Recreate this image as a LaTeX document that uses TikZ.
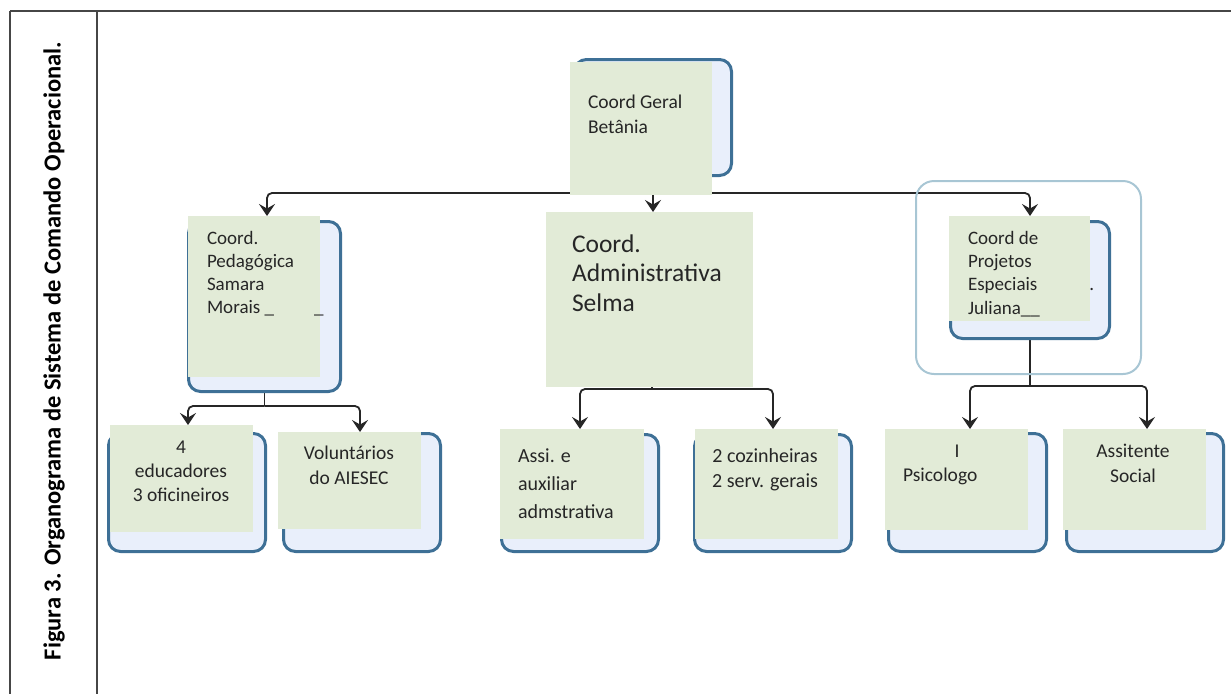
\documentclass[tikz,border=0pt]{standalone}
\usepackage{fontspec}
\setmainfont{Carlito}
\usetikzlibrary{arrows.meta,backgrounds}
\definecolor{gfill}{RGB}{226,235,215}
\definecolor{bfill}{RGB}{233,239,251}
\definecolor{bdraw}{RGB}{62,112,150}
\definecolor{framec}{RGB}{70,70,70}
\definecolor{txt}{RGB}{38,38,38}
\definecolor{outerb}{RGB}{168,198,212}
\tikzset{
  bluebox/.style={draw=bdraw, fill=bfill, line width=3pt, rounded corners=12pt, inner sep=0pt, outer sep=0pt, anchor=north west},
  greenbox/.style={fill=gfill, inner sep=0pt, outer sep=0pt, anchor=north west},
  lbl/.style={text=txt, inner sep=0pt, outer sep=0pt, align=left, anchor=base west},
  clbl/.style={text=txt, inner sep=0pt, outer sep=0pt, align=center, anchor=base},
  wire/.style={draw=black!85, line width=1.8pt},
  conn/.style={wire, rounded corners=5pt, -{Stealth[length=12pt,width=16pt,inset=4.5pt]}},
  framel/.style={draw=framec, line width=2pt},
}
\begin{document}
\begin{tikzpicture}[x=1pt,y=-1pt]
\useasboundingbox (0,0) rectangle (1231,694);
% frame
\draw[framel] (10,11) -- (1231,11);
\draw[framel] (10,11) -- (10,694);
\draw[framel] (97,11) -- (97,694);
\node[rotate=90, inner sep=0pt, font=\bfseries\fontsize{24.5}{28}\selectfont] (title) at (54,351) {Figura 3. Organograma de Sistema de Comando Operacional.};
% outer light frame around projects
\node[draw=outerb, line width=2pt, rounded corners=18pt, inner sep=0pt, outer sep=0pt, anchor=north west, minimum width=225pt, minimum height=193pt] (projFrame) at (916,181) {};
% top
\node[bluebox, minimum width=157pt, minimum height=116pt] (topB) at (574.5,59.5) {};
\node[greenbox, minimum width=142pt, minimum height=133pt] (topG) at (570,62) {};
\node[lbl, font=\fontsize{19.5}{25}\selectfont] (topT) at (588,133) {Coord Geral\\Betânia};
% pedagogica
\node[bluebox, minimum width=152pt, minimum height=170pt] (pedB) at (188.5,221.5) {};
\node[greenbox, minimum width=132pt, minimum height=161pt] (pedG) at (188,216) {};
\node[lbl, font=\fontsize{19}{23}\selectfont] (pedT) at (207,313) {Coord.\\Pedagógica\\Samara\\Morais \_\hspace{40pt}\_};
% administrativa
\node[greenbox, minimum width=207pt, minimum height=175pt] (adminG) at (546,212) {};
\node[lbl, font=\fontsize{25.5}{29.5}\selectfont] (adminT) at (572,311) {Coord.\\Administrativa\\Selma};
% projetos
\node[bluebox, minimum width=159pt, minimum height=117pt] (projB) at (950.5,221.5) {};
\node[greenbox, minimum width=141pt, minimum height=105pt] (projG) at (949,216) {};
\node[lbl, font=\fontsize{19}{23.3}\selectfont] (projT) at (968,314) {Coord de\\Projetos\\Especiais\hspace{52pt}.\\Juliana\_\_};
% bottom row
\node[bluebox, minimum width=157pt, minimum height=118pt] (eduB) at (108.5,433.5) {};
\node[greenbox, minimum width=143pt, minimum height=107pt] (eduG) at (110,425) {};
\node[clbl, font=\fontsize{19.5}{24}\selectfont] (eduT) at (181,501.5) {4\\educadores\\3 oficineiros};
\node[bluebox, minimum width=157pt, minimum height=118pt] (volB) at (283.5,433.5) {};
\node[greenbox, minimum width=143pt, minimum height=97pt] (volG) at (278,432) {};
\node[clbl, font=\fontsize{19.5}{25}\selectfont] (volT) at (349,484.5) {Voluntários\\do AIESEC};
\node[bluebox, minimum width=157pt, minimum height=117pt] (assiB) at (501.5,434.5) {};
\node[greenbox, minimum width=144pt, minimum height=110pt] (assiG) at (500,429) {};
\node[lbl, font=\fontsize{20}{28}\selectfont] (assiT) at (518,518) {Assi. e\\auxiliar\\admstrativa};
\node[bluebox, minimum width=157pt, minimum height=117pt] (cozB) at (694.5,434.5) {};
\node[greenbox, minimum width=143pt, minimum height=110pt] (cozG) at (695,429) {};
\node[clbl, font=\fontsize{20}{25}\selectfont] (cozT) at (765,487) {2 cozinheiras\\2 serv. gerais};
\node[bluebox, minimum width=158pt, minimum height=118pt] (psiB) at (888.5,433.5) {};
\node[greenbox, minimum width=143pt, minimum height=101pt] (psiG) at (885,429) {};
\node[lbl, font=\fontsize{19.5}{24}\selectfont] (psiT) at (903,481) {\hspace*{51.5pt}I\\Psicologo};
\node[bluebox, minimum width=157pt, minimum height=118pt] (socB) at (1066.5,433.5) {};
\node[greenbox, minimum width=143pt, minimum height=101pt] (socG) at (1063,429) {};
\node[clbl, font=\fontsize{19.5}{25}\selectfont] (socT) at (1133,482) {Assitente\\Social};
% connectors
\begin{pgfonlayer}{background}
\coordinate (hubTop) at (653,193);
\draw[wire] (topB.south) -- (hubTop);
\draw[conn] (hubTop) -| ([xshift=13pt]pedG.north);
\draw[conn] (hubTop) -- (hubTop |- adminG.north);
\draw[conn] (hubTop) -| ([xshift=10.5pt]projG.north);
\coordinate (hubPed) at (264.5,406);
\draw[wire] (pedB.south) -- (hubPed);
\draw[conn] (hubPed) -| ([xshift=6.5pt]eduG.north);
\draw[conn] (hubPed) -| ([xshift=10.5pt]volG.north);
\coordinate (hubAdm) at (652,389);
\draw[wire] (hubAdm |- adminG.south) -- (hubAdm);
\draw[conn] (hubAdm) -| ([xshift=8pt]assiG.north);
\draw[conn] (hubAdm) -| ([xshift=6.5pt]cozG.north);
\coordinate (hubProj) at (1030,386);
\draw[wire] (projB.south) -- (hubProj);
\draw[conn] (hubProj) -| ([xshift=13.5pt]psiG.north);
\draw[conn] (hubProj) -| ([xshift=12.5pt]socG.north);
\end{pgfonlayer}
\end{tikzpicture}
\end{document}
